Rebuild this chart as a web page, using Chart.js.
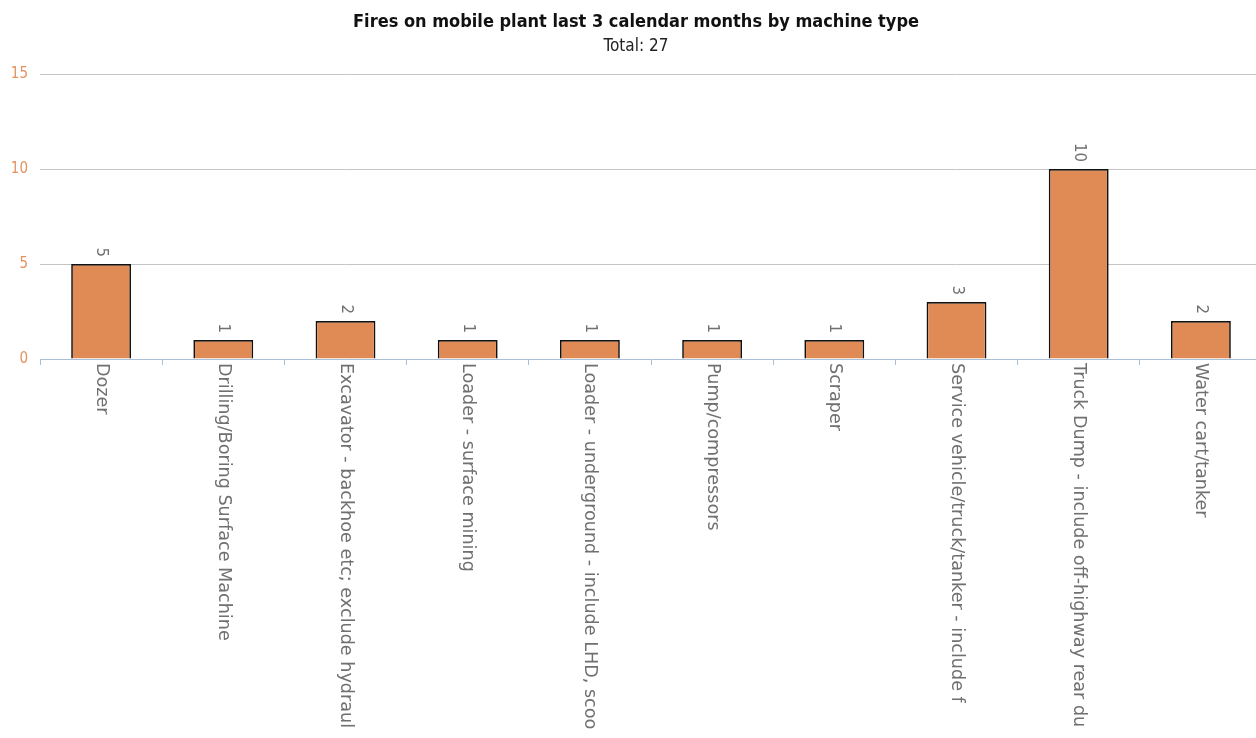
<!DOCTYPE html>
<html>
<head>
<meta charset="utf-8">
<script src="https://cdn.jsdelivr.net/npm/chart.js@4/dist/chart.umd.min.js"></script>
<style>
  html, body { margin: 0; padding: 0; background: #fff; overflow: hidden; }
  #wrap { width: 1262px; height: 738px; }
</style>
</head>
<body>
<div id="wrap"><canvas id="graph" width="1262" height="738"></canvas></div>
<script>
let machineTypes = [
    "Dozer",
    "Drilling/Boring Surface Machine",
    "Excavator - backhoe etc; exclude hydraul",
    "Loader - surface mining",
    "Loader - underground - include LHD, scoo",
    "Pump/compressors",
    "Scraper",
    "Service vehicle/truck/tanker - include f",
    "Truck Dump - include off-highway rear du",
    "Water cart/tanker"
];
let fireCounts = [5, 1, 2, 1, 1, 1, 1, 3, 10, 2];
let yTicks = [0, 5, 10, 15];

let barColor = '#e08a56';
let labelGrey = '#707070';

// x labels and value labels are drawn rotated clockwise (top to bottom)
let rotatedText = {
    id: 'rotatedText',
    afterDatasetsDraw(chart) {
        let ctx = chart.ctx;
        let xs = chart.scales.x;
        let ys = chart.scales.y;
        let area = chart.chartArea;
        ctx.save();
        ctx.fillStyle = labelGrey;
        ctx.font = '17.6px "DejaVu Sans"';
        ctx.textAlign = 'left';
        ctx.textBaseline = 'middle';
        machineTypes.forEach((lab, i) => {
            ctx.save();
            ctx.translate(xs.getPixelForValue(i), area.bottom + 4);
            ctx.rotate(Math.PI / 2);
            ctx.fillText(lab, 0, 0);
            ctx.restore();
        });
        ctx.font = '15px "DejaVu Sans"';
        ctx.textAlign = 'right';
        fireCounts.forEach((v, i) => {
            ctx.save();
            ctx.translate(xs.getPixelForValue(i), ys.getPixelForValue(v) - 7);
            ctx.rotate(Math.PI / 2);
            ctx.fillText(String(v), 0, 0);
            ctx.restore();
        });
        ctx.restore();
    }
};

let graph = document.getElementById('graph').getContext('2d');
let stat = new Chart(graph, {
    type: 'bar',
    data: {
        labels: machineTypes,
        datasets: [{
            data: fireCounts,
            backgroundColor: barColor,
            borderColor: '#111111',
            borderWidth: 1.7,
            categoryPercentage: 1,
            barPercentage: 0.49
        }]
    },
    options: {
        responsive: false,
        animation: false,
        layout: { padding: { left: 10, right: 0, top: 0, bottom: 373 } },
        plugins: {
            legend: { display: false },
            tooltip: { enabled: false },
            title: {
                display: true,
                text: 'Fires on mobile plant last 3 calendar months by machine type',
                color: '#111111',
                font: { family: '"DejaVu Sans Condensed", "DejaVu Sans"', size: 18, weight: 'bold' },
                padding: { top: 12, bottom: 1 }
            },
            subtitle: {
                display: true,
                text: 'Total: 27',
                color: '#222222',
                font: { family: '"DejaVu Sans Condensed", "DejaVu Sans"', size: 17 },
                padding: { top: 2, bottom: 17 }
            }
        },
        scales: {
            x: {
                offset: true,
                grid: {
                    offset: true,
                    drawOnChartArea: false,
                    drawTicks: true,
                    tickLength: 6,
                    color: '#a9c0d8'
                },
                border: { display: true, color: '#a9c0d8', width: 1 },
                ticks: { display: false }
            },
            y: {
                min: 0,
                max: 15,
                afterBuildTicks: (s) => { s.ticks = yTicks.map(v => ({ value: v })); },
                afterFit: (s) => { s.width = 30; },
                grid: { color: (c) => c.tick.value === 0 ? 'rgba(0,0,0,0)' : '#c4c4c4', drawTicks: false },
                border: { display: false },
                ticks: {
                    color: '#e4915e',
                    padding: 12,
                    font: { family: '"DejaVu Sans Condensed", "DejaVu Sans"', size: 15 }
                }
            }
        }
    },
    plugins: [rotatedText]
});
</script>
</body>
</html>
